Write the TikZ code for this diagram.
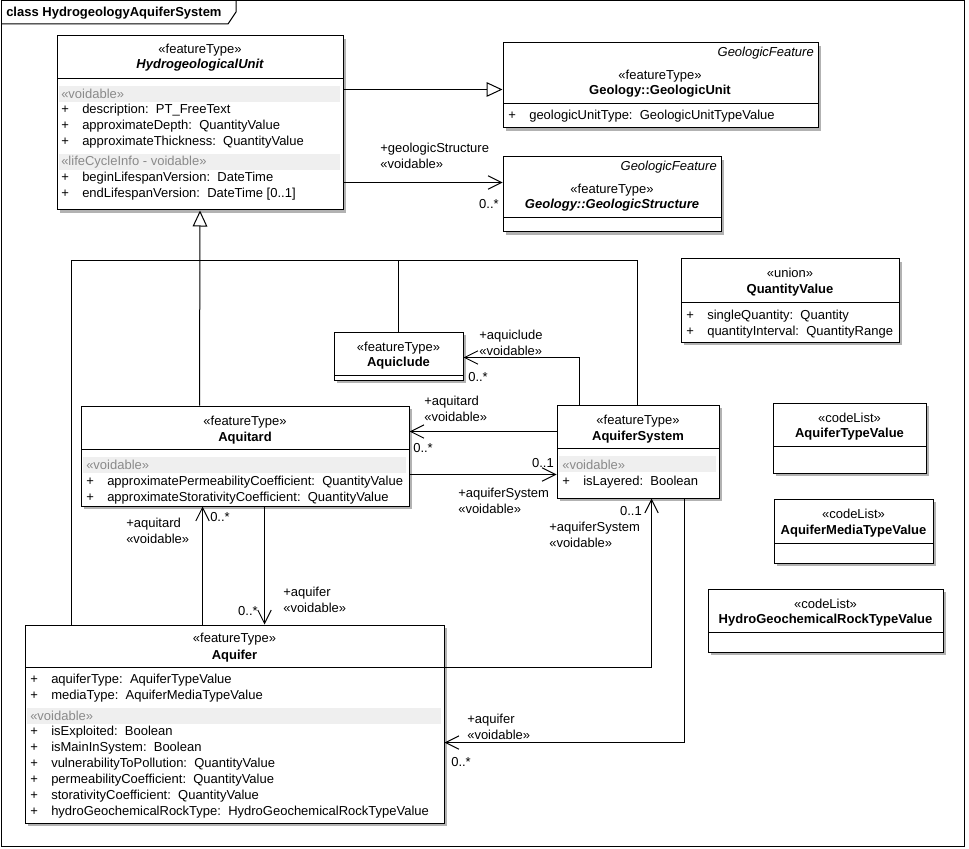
\documentclass[tikz,border=0pt]{standalone}
\usepackage{fontspec}
\setmainfont{Liberation Sans}
\usetikzlibrary{arrows.meta,calc,fit,shadows}

\definecolor{bandgray}{HTML}{EFEFEF}
\definecolor{voidgray}{HTML}{8A8A8A}
\newcommand{\dfont}{\fontsize{9.75}{12}\selectfont}
\newcommand{\pl}{\makebox[15.75pt][l]{+}}

\tikzset{
  cls/.style={draw, line width=0.75pt, fill=white, inner sep=0pt,
    drop shadow={shadow xshift=2.5pt, shadow yshift=-2.5pt, fill=black!30, opacity=1}},
  txt/.style={inner sep=0pt, font=\dfont},
  st/.style={txt, anchor=base},
  nm/.style={txt, anchor=base, font=\dfont\bfseries},
  nmi/.style={txt, anchor=base, font=\dfont\bfseries\itshape},
  gf/.style={txt, anchor=base east, font=\dfont\itshape},
  att/.style={txt, anchor=base west},
  vd/.style={txt, anchor=base west, text=voidgray},
  lbl/.style={txt, anchor=base west, align=left},
  band/.style={fill=bandgray},
  rule/.style={line width=0.75pt},
  assoc/.style={line width=0.75pt, -{Straight Barb[length=10pt,width=10pt]}},
  gen/.style={line width=0.75pt, -{Triangle[open,length=12pt,width=11pt]}},
}

\begin{document}
\begin{tikzpicture}[x=0.75pt, y=-0.75pt]
\useasboundingbox (0,0) rectangle (969,848);

% ===== Diagram frame =====
\draw[rule] (1,1) rectangle (964,846);
\draw[rule] (1,24) -- (228,24) -- (236,12) -- (236,1);
\node[txt, anchor=base west, font=\dfont\bfseries] (ttl) at (6,17) {class HydrogeologyAquiferSystem};

% ===== HydrogeologicalUnit =====
\node[cls, fit={(57,36) (343,210)}] (hu) {};
\draw[rule] (57,79) -- (343,79);
\fill[band] (59,86) rectangle (340,102);
\fill[band] (59,154) rectangle (340,170);
\node[st] (hu-s) at (200,54) {«featureType»};
\node[nmi] (hu-n) at (200,69) {HydrogeologicalUnit};
\node[vd] (hu-v1) at (61,99) {«voidable»};
\node[att] (hu-a1) at (61,114) {\pl description:\ \ PT\_FreeText};
\node[att] (hu-a2) at (61,130) {\pl approximateDepth:\ \ QuantityValue};
\node[att] (hu-a3) at (61,146) {\pl approximateThickness:\ \ QuantityValue};
\node[vd] (hu-v2) at (61,166) {«lifeCycleInfo - voidable»};
\node[att] (hu-a4) at (61,182) {\pl beginLifespanVersion:\ \ DateTime};
\node[att] (hu-a5) at (61,198) {\pl endLifespanVersion:\ \ DateTime [0..1]};

% ===== Geology::GeologicUnit =====
\node[cls, fit={(503,43) (818,128)}] (gu) {};
\draw[rule] (503,104) -- (818,104);
\node[gf] (gu-f) at (814,57) {GeologicFeature};
\node[st] (gu-s) at (660,80) {«featureType»};
\node[nm] (gu-n) at (660,95) {Geology::GeologicUnit};
\node[att] (gu-a1) at (508,120) {\pl geologicUnitType:\ \ GeologicUnitTypeValue};

% ===== Geology::GeologicStructure =====
\node[cls, fit={(503,157) (721,232)}] (gs) {};
\draw[rule] (503,218) -- (721,218);
\node[gf] (gs-f) at (717,171) {GeologicFeature};
\node[st] (gs-s) at (612,194) {«featureType»};
\node[nmi] (gs-n) at (612,209) {Geology::GeologicStructure};

% ===== QuantityValue =====
\node[cls, fit={(681,259) (899,342)}] (qv) {};
\draw[rule] (681,302) -- (899,302);
\node[st] (qv-s) at (790,277) {«union»};
\node[nm] (qv-n) at (790,293) {QuantityValue};
\node[att] (qv-a1) at (686,319) {\pl singleQuantity:\ \ Quantity};
\node[att] (qv-a2) at (686,335) {\pl quantityInterval:\ \ QuantityRange};

% ===== Aquiclude =====
\node[cls, fit={(334,332) (463,380)}] (aqcl) {};
\draw[rule] (334,375) -- (463,375);
\node[st] (aqcl-s) at (398.5,351) {«featureType»};
\node[nm] (aqcl-n) at (398.5,366) {Aquiclude};

% ===== Aquitard =====
\node[cls, fit={(81,406) (409,506)}] (aqtd) {};
\draw[rule] (81,449) -- (409,449);
\fill[band] (83,457) rectangle (406,473);
\node[st] (aqtd-s) at (245,425) {«featureType»};
\node[nm] (aqtd-n) at (245,441) {Aquitard};
\node[vd] (aqtd-v) at (86,469) {«voidable»};
\node[att] (aqtd-a1) at (86,485) {\pl approximatePermeabilityCoefficient:\ \ QuantityValue};
\node[att] (aqtd-a2) at (86,501) {\pl approximateStorativityCoefficient:\ \ QuantityValue};

% ===== AquiferSystem =====
\node[cls, fit={(557,405) (719,498)}] (aqsys) {};
\draw[rule] (557,448) -- (719,448);
\fill[band] (559,456) rectangle (716,472);
\node[st] (aqsys-s) at (638,424) {«featureType»};
\node[nm] (aqsys-n) at (638,440) {AquiferSystem};
\node[vd] (aqsys-v) at (562,469) {«voidable»};
\node[att] (aqsys-a1) at (562,485) {\pl isLayered:\ \ Boolean};

% ===== Aquifer =====
\node[cls, fit={(25,625) (444,823)}] (aqf) {};
\draw[rule] (25,667) -- (444,667);
\fill[band] (27,708) rectangle (441,724);
\node[st] (aqf-s) at (234.5,642) {«featureType»};
\node[nm] (aqf-n) at (234.5,659) {Aquifer};
\node[att] (aqf-a1) at (30,683) {\pl aquiferType:\ \ AquiferTypeValue};
\node[att] (aqf-a2) at (30,699) {\pl mediaType:\ \ AquiferMediaTypeValue};
\node[vd] (aqf-v) at (30,720) {«voidable»};
\node[att] (aqf-a3) at (30,735) {\pl isExploited:\ \ Boolean};
\node[att] (aqf-a4) at (30,751) {\pl isMainInSystem:\ \ Boolean};
\node[att] (aqf-a5) at (30,767) {\pl vulnerabilityToPollution:\ \ QuantityValue};
\node[att] (aqf-a6) at (30,783) {\pl permeabilityCoefficient:\ \ QuantityValue};
\node[att] (aqf-a7) at (30,799) {\pl storativityCoefficient:\ \ QuantityValue};
\node[att] (aqf-a8) at (30,815) {\pl hydroGeochemicalRockType:\ \ HydroGeochemicalRockTypeValue};

% ===== Code lists =====
\node[cls, fit={(773,403) (926,473)}] (atv) {};
\draw[rule] (773,446) -- (926,446);
\node[st] (atv-s) at (849.5,422) {«codeList»};
\node[nm] (atv-n) at (849.5,437) {AquiferTypeValue};

\node[cls, fit={(774,499) (933,563)}] (amtv) {};
\draw[rule] (774,543) -- (933,543);
\node[st] (amtv-s) at (853.5,518) {«codeList»};
\node[nm] (amtv-n) at (853.5,534) {AquiferMediaTypeValue};

\node[cls, fit={(708,589) (943,652)}] (hgrt) {};
\draw[rule] (708,632) -- (943,632);
\node[st] (hgrt-s) at (825.5,608) {«codeList»};
\node[nm] (hgrt-n) at (825.5,623) {HydroGeochemicalRockTypeValue};

% ===== Generalisations =====
\draw[gen] ($(hu.north east)+(0,54)$) -- ($(gu.north west)+(0,47)$);
\draw[gen] ($(aqtd.north west)+(119,0)$) -- (hu.south);
\draw[rule] ($(aqf.north west)+(47,0)$) |- ($(aqsys.north west)+(81,-144)$) -- ($(aqsys.north west)+(81,0)$);
\draw[rule] (aqcl.north) -- ++(0,-71);

% ===== Associations =====
\draw[assoc] ($(hu.north east)+(0,147)$) -- ($(gs.north west)+(0,26)$);
\node[lbl] (l-gs) at (380,169) {+geologicStructure\\«voidable»};
\node[txt, anchor=base east] (m-gs) at (499,209) {0..*};

\draw[assoc] ($(aqsys.north west)+(23,0)$) |- ($(aqcl.north east)+(0,26)$);
\node[lbl] (l-aqcl) at (479,355) {+aquiclude\\«voidable»};
\node[txt, anchor=base west] (m-aqcl) at (468,381) {0..*};

\draw[assoc] ($(aqsys.north west)+(0,27)$) -- ($(aqtd.north east)+(0,26)$);
\node[lbl] (l-aqtd) at (424,421) {+aquitard\\«voidable»};
\node[txt, anchor=base west] (m-aqtd) at (413,452) {0..*};

\draw[assoc] ($(aqtd.north east)+(0,69)$) -- ($(aqsys.north west)+(0,70)$);
\node[lbl] (l-sys1) at (458,513) {+aquiferSystem\\«voidable»};
\node[txt, anchor=base east] (m-sys1) at (554,467) {0..1};

\draw[assoc] ($(aqf.north east)+(0,43)$) -| ($(aqsys.south west)+(95,0)$);
\node[lbl] (l-sys2) at (549,547) {+aquiferSystem\\«voidable»};
\node[txt, anchor=base east] (m-sys2) at (642,515) {0..1};

\draw[assoc] ($(aqsys.south west)+(128,0)$) |- ($(aqf.north east)+(0,118)$);
\node[lbl] (l-aqf1) at (467,739) {+aquifer\\«voidable»};
\node[txt, anchor=base west] (m-aqf1) at (451,766) {0..*};

\draw[assoc] ($(aqf.north west)+(178,0)$) -- ($(aqtd.south west)+(122,0)$);
\node[lbl] (l-aqtd2) at (126,543) {+aquitard\\«voidable»};
\node[txt, anchor=base west] (m-aqtd2) at (210,521) {0..*};

\draw[assoc] ($(aqtd.south west)+(184,0)$) -- ($(aqf.north west)+(240,0)$);
\node[lbl] (l-aqf2) at (283,612) {+aquifer\\«voidable»};
\node[txt, anchor=base east] (m-aqf2) at (258,615) {0..*};

\end{tikzpicture}
\end{document}
